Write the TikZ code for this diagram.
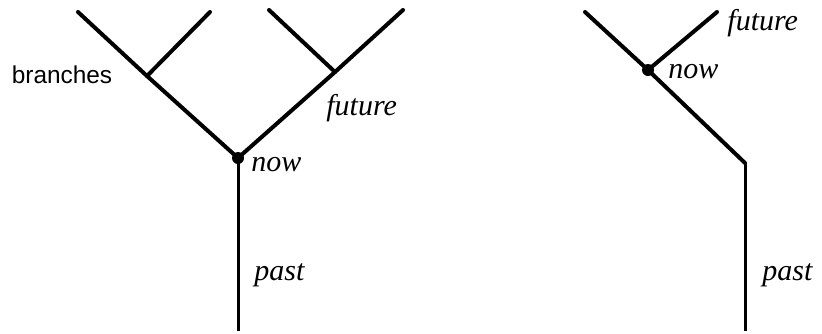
\documentclass[tikz,border=0pt]{standalone}
\usepackage{fontspec}
\setmainfont{Liberation Serif}
\setsansfont{Liberation Sans}
\usepackage{tikz}

\begin{document}
\begin{tikzpicture}[x=0.5pt, y=-0.5pt,
    limb/.style={line width=2pt, line cap=round, line join=round},
    trunk/.style={line width=1.5pt},
    label/.style={anchor=west, inner sep=0pt, font=\fontsize{15}{15}\selectfont\itshape}]
    \useasboundingbox (0,0) rectangle (822,333);

    % Branching tree (left)
    \coordinate (now1) at (238,158);
    \coordinate (root1) at (238,331);
    \coordinate (forkL) at (147,76);
    \coordinate (forkR) at (335,72);
    \coordinate (tipLL) at (78,12);
    \coordinate (tipLR) at (210,12);
    \coordinate (tipRL) at (269,10);
    \coordinate (tipRR) at (403,10);

    \draw[trunk] (now1) -- (root1);
    \draw[limb] (now1) -- (forkL) -- (tipLL);
    \draw[limb] (forkL) -- (tipLR);
    \draw[limb] (now1) -- (forkR) -- (tipRR);
    \draw[limb] (forkR) -- (tipRL);
    \fill (now1) circle (3pt);

    % Labels
    \node[anchor=center, font=\sffamily\fontsize{12.2}{12}\selectfont] (branches) at (62,75) {branches};
    \node[label] (future1) at (326,108) {future};
    \node[label] (nowlab1) at (251,165) {now};
    \node[label] (past1) at (254,275) {past};

    % Single line (right)
    \coordinate (top2) at (585,12);
    \coordinate (now2) at (648,70);
    \coordinate (bend2) at (745,163);
    \coordinate (root2) at (745,331);
    \coordinate (tip2) at (717,12);

    \draw[limb] (top2) -- (now2) -- (bend2);
    \draw[trunk] (bend2) -- (root2);
    \draw[limb] (now2) -- (tip2);
    \fill (now2) circle (3pt);

    \node[label] (future2) at (727,23) {future};
    \node[label] (nowlab2) at (668,72) {now};
    \node[label] (past2) at (762,275) {past};
\end{tikzpicture}
\end{document}
